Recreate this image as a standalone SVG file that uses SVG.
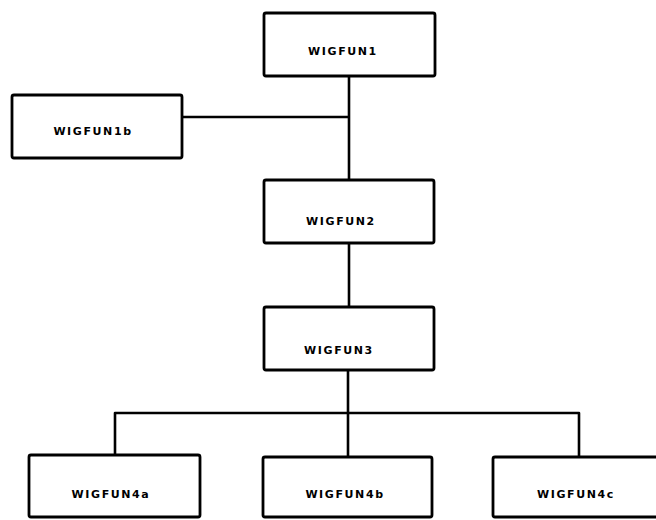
<svg xmlns="http://www.w3.org/2000/svg" width="656" height="520" viewBox="0 0 656 520">
<style>
.box{fill:#fff;stroke:#000;stroke-width:2.8}
.lbl{font-family:"DejaVu Sans",sans-serif;font-weight:bold;font-size:11px;letter-spacing:1.6px;text-anchor:middle;fill:#000}
.ln{fill:none;stroke:#000;stroke-width:2.6;stroke-linejoin:round}
</style>
<rect width="656" height="520" fill="#fff"/>
<g id="connectors">
<path class="ln" d="M349,76 V180"/>
<path class="ln" d="M182,117 H349"/>
<path class="ln" d="M349,243 V307"/>
<path class="ln" d="M348,370 V457"/>
<path class="ln" d="M115,455 V413 H579 V457"/>
</g>
<g id="WIGFUN1"><rect class="box" x="264" y="13" width="171" height="63" rx="2"/><text class="lbl" x="343" y="55">WIGFUN1</text></g>
<g id="WIGFUN1b"><rect class="box" x="12" y="95" width="170" height="63" rx="2"/><text class="lbl" x="93" y="135">WIGFUN1b</text></g>
<g id="WIGFUN2"><rect class="box" x="264" y="180" width="170" height="63" rx="2"/><text class="lbl" x="341" y="225">WIGFUN2</text></g>
<g id="WIGFUN3"><rect class="box" x="264" y="307" width="170" height="63" rx="2"/><text class="lbl" x="339" y="354">WIGFUN3</text></g>
<g id="WIGFUN4a"><rect class="box" x="29" y="455" width="171" height="62" rx="2"/><text class="lbl" x="111" y="498">WIGFUN4a</text></g>
<g id="WIGFUN4b"><rect class="box" x="263" y="457" width="169" height="60" rx="2"/><text class="lbl" x="345" y="498">WIGFUN4b</text></g>
<g id="WIGFUN4c"><rect class="box" x="493" y="457" width="177" height="60" rx="2"/><text class="lbl" x="576" y="498">WIGFUN4c</text></g>
</svg>
